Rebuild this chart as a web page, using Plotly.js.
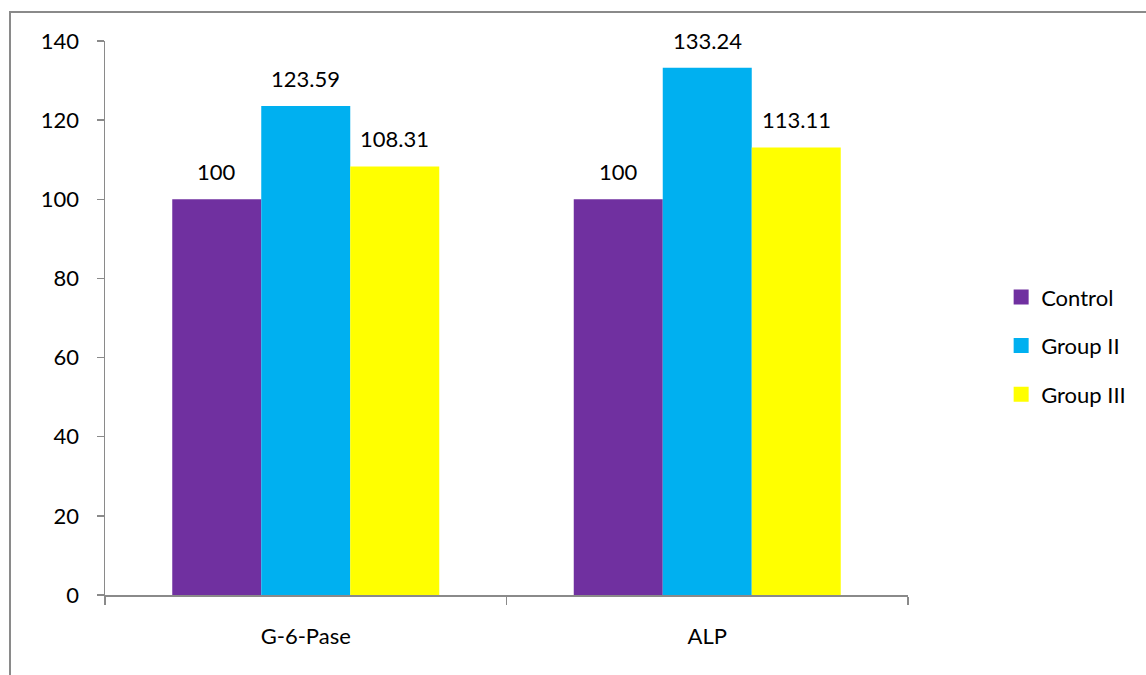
<!DOCTYPE html>
<html>
<head>
<meta charset="utf-8">
<script src="https://cdn.plot.ly/plotly-3.0.1.min.js"></script>
<style>
html,body{margin:0;padding:0;background:#fff;}
#wrap{position:absolute;left:0;top:0;width:1146px;height:675px;overflow:hidden;}
#frame{position:absolute;left:9px;top:11px;width:1200px;height:700px;border-left:2px solid #8a8a8a;border-top:2px solid #8a8a8a;pointer-events:none;}
#chart{position:absolute;left:0;top:0;width:1146px;height:675px;}
</style>
</head>
<body>
<div id="wrap">
<div id="chart"></div>
<div id="frame"></div>
</div>
<script>
const categories = ["G-6-Pase", "ALP"];
const seriesNames = ["Control", "Group II", "Group III"];
const control = [100, 100];
const group2 = [123.59, 133.24];
const group3 = [108.31, 113.11];
const labelsControl = ["100", "100"];
const labelsGroup2 = ["123.59", "133.24"];
const labelsGroup3 = ["108.31", "113.11"];
const yTicks = [0, 20, 40, 60, 80, 100, 120, 140];

const colors = ["#7030A0", "#00B0F0", "#FFFF00"];
const seriesVals = [control, group2, group3];
const seriesLabels = [labelsControl, labelsGroup2, labelsGroup3];
const font = {family: "Lato, 'Open Sans', sans-serif", size: 22, color: "#000"};

const traces = seriesVals.map((v, i) => ({
  type: "bar",
  name: seriesNames[i],
  x: categories,
  y: v,
  marker: {color: colors[i], line: {width: 0}},
  legendgroup: "g" + i,
  hoverinfo: "x+y+name"
}));

const barPx = 89;
const annotations = [];
seriesVals.forEach((v, i) => {
  v.forEach((val, j) => {
    annotations.push({
      x: categories[j], y: val, xref: "x", yref: "y",
      text: seriesLabels[i][j], showarrow: false,
      xanchor: "center", yanchor: "bottom",
      xshift: (i - 1) * barPx, yshift: 12,
      font: font
    });
  });
});

const layout = {
  width: 1146, height: 675,
  margin: {l: 105, r: 238, t: 41, b: 80},
  paper_bgcolor: "rgba(0,0,0,0)",
  plot_bgcolor: "rgba(0,0,0,0)",
  barmode: "group",
  bargap: 0.335,
  bargroupgap: 0,
  font: font,
  showlegend: true,
  legend: {
    x: 1.116, xanchor: "left", y: 0.45, yanchor: "middle",
    font: font, tracegroupgap: 17, bgcolor: "rgba(0,0,0,0)"
  },
  xaxis: {
    type: "category",
    showline: true, linecolor: "#8a8a8a", linewidth: 1.5,
    ticks: "outside", tickson: "boundaries", ticklen: 8, tickcolor: "#8a8a8a", tickwidth: 1.5,
    ticklabelstandoff: 21,
    showgrid: false, zeroline: false,
    tickfont: font
  },
  yaxis: {
    range: [0, 140],
    tickvals: yTicks,
    ticktext: yTicks.map(String),
    showline: true, linecolor: "#8a8a8a", linewidth: 1.5,
    ticks: "outside", ticklen: 7, tickcolor: "#8a8a8a", tickwidth: 1.5,
    ticklabelstandoff: 13,
    showgrid: false, zeroline: false,
    tickfont: font
  },
  annotations: annotations
};

Plotly.newPlot("chart", traces, layout, {displayModeBar: false, staticPlot: true}).then(gd => {
  gd.querySelectorAll(".legend .legendpoints path").forEach(p => {
    const t = p.getAttribute("transform") || "";
    p.setAttribute("transform", t + " scale(1.25)");
  });
});
</script>
</body>
</html>
